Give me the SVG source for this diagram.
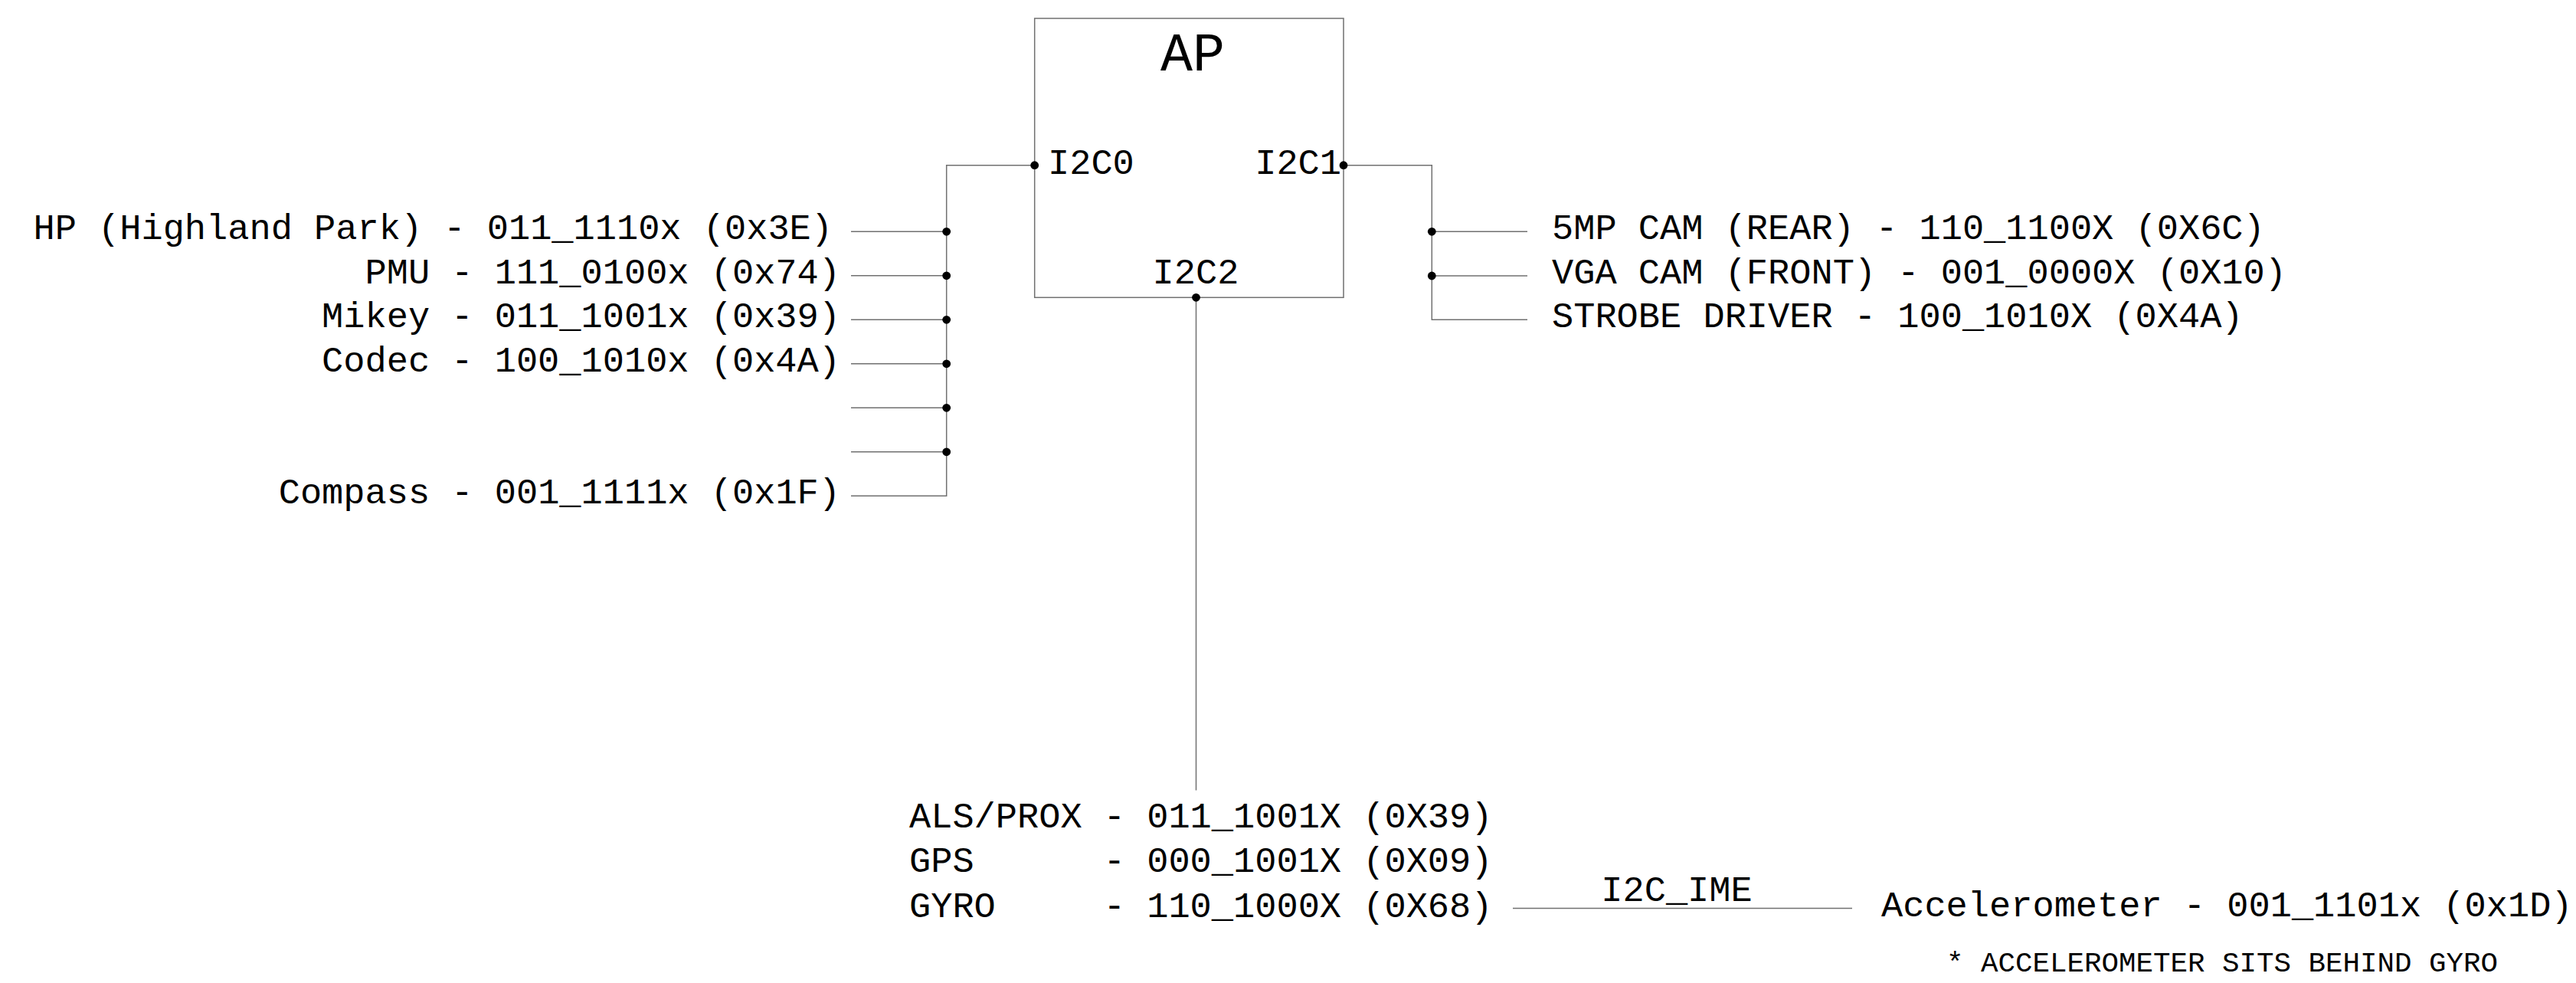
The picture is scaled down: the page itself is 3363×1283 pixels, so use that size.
<svg xmlns="http://www.w3.org/2000/svg" width="3363" height="1283" viewBox="0 0 3363 1283">
<style>
text{font-family:"Liberation Mono","Courier New",monospace;font-size:47px;fill:#000}
.w{stroke:#707070;stroke-width:1.5;fill:none}
.d{fill:#000}
.box{fill:#fff;stroke:#707070;stroke-width:1.5}
.e{text-anchor:end}
.m{text-anchor:middle}
</style>
<rect x="0" y="0" width="3363" height="1283" fill="#fff"/>
<g id="connectors">
<polyline class="w" points="1350.7,215.7 1235.7,215.7 1235.7,647.3 1111,647.3"/>
<line class="w" x1="1111" y1="302.3" x2="1235.7" y2="302.3"/>
<line class="w" x1="1111" y1="359.8" x2="1235.7" y2="359.8"/>
<line class="w" x1="1111" y1="417.3" x2="1235.7" y2="417.3"/>
<line class="w" x1="1111" y1="474.8" x2="1235.7" y2="474.8"/>
<line class="w" x1="1111" y1="532.3" x2="1235.7" y2="532.3"/>
<line class="w" x1="1111" y1="589.8" x2="1235.7" y2="589.8"/>
<circle class="d" cx="1235.7" cy="302.3" r="5.4"/>
<circle class="d" cx="1235.7" cy="359.8" r="5.4"/>
<circle class="d" cx="1235.7" cy="417.3" r="5.4"/>
<circle class="d" cx="1235.7" cy="474.8" r="5.4"/>
<circle class="d" cx="1235.7" cy="532.3" r="5.4"/>
<circle class="d" cx="1235.7" cy="589.8" r="5.4"/>
<polyline class="w" points="1754,215.7 1869.3,215.7 1869.3,417.3 1994,417.3"/>
<line class="w" x1="1869.3" y1="302.3" x2="1994" y2="302.3"/>
<line class="w" x1="1869.3" y1="360" x2="1994" y2="360"/>
<circle class="d" cx="1869.3" cy="302.3" r="5.4"/>
<circle class="d" cx="1869.3" cy="360" r="5.4"/>
<line class="w" x1="1561.5" y1="388.3" x2="1561.5" y2="1031.5"/>
<line class="w" x1="1975" y1="1185.5" x2="2418" y2="1185.5"/>
<text class="m" x="2189" y="1176">I2C_IME</text>
</g>
<g id="node-ap">
<rect class="box" x="1350.7" y="24" width="403.3" height="364.3"/>
<text class="m" x="1557" y="92" style="font-size:70px">AP</text>
<text x="1368" y="226.7">I2C0</text>
<text class="e" x="1751" y="226.7">I2C1</text>
<text class="m" x="1561" y="370">I2C2</text>
<circle class="d" cx="1350.7" cy="215.7" r="5.4"/>
<circle class="d" cx="1754" cy="215.7" r="5.4"/>
<circle class="d" cx="1561.5" cy="388.3" r="5.4"/>
</g>
<g id="node-hp"><text class="e" x="1087" y="312.3">HP (Highland Park) - 011_1110x (0x3E)</text></g>
<g id="node-pmu"><text class="e" x="1097" y="369.8">PMU - 111_0100x (0x74)</text></g>
<g id="node-mikey"><text class="e" x="1097" y="427.3">Mikey - 011_1001x (0x39)</text></g>
<g id="node-codec"><text class="e" x="1097" y="484.8">Codec - 100_1010x (0x4A)</text></g>
<g id="node-compass"><text class="e" x="1097" y="657.3">Compass - 001_1111x (0x1F)</text></g>
<g id="node-5mp"><text x="2026" y="312.3">5MP CAM (REAR) - 110_1100X (0X6C)</text></g>
<g id="node-vga"><text x="2026" y="370">VGA CAM (FRONT) - 001_0000X (0X10)</text></g>
<g id="node-strobe"><text x="2026" y="427.3">STROBE DRIVER - 100_1010X (0X4A)</text></g>
<g id="node-als"><text x="1187" y="1080"><tspan>ALS/PROX</tspan><tspan x="1440.8">- 011_1001X (0X39)</tspan></text></g>
<g id="node-gps"><text x="1187" y="1138.3"><tspan>GPS</tspan><tspan x="1440.8">- 000_1001X (0X09)</tspan></text></g>
<g id="node-gyro"><text x="1187" y="1196.5"><tspan>GYRO</tspan><tspan x="1440.8">- 110_1000X (0X68)</tspan></text></g>
<g id="node-accel"><text x="2456" y="1195.5">Accelerometer - 001_1101x (0x1D)</text></g>
<g id="note"><text x="2541" y="1268" style="font-size:37.5px">* ACCELEROMETER SITS BEHIND GYRO</text></g>
</svg>
